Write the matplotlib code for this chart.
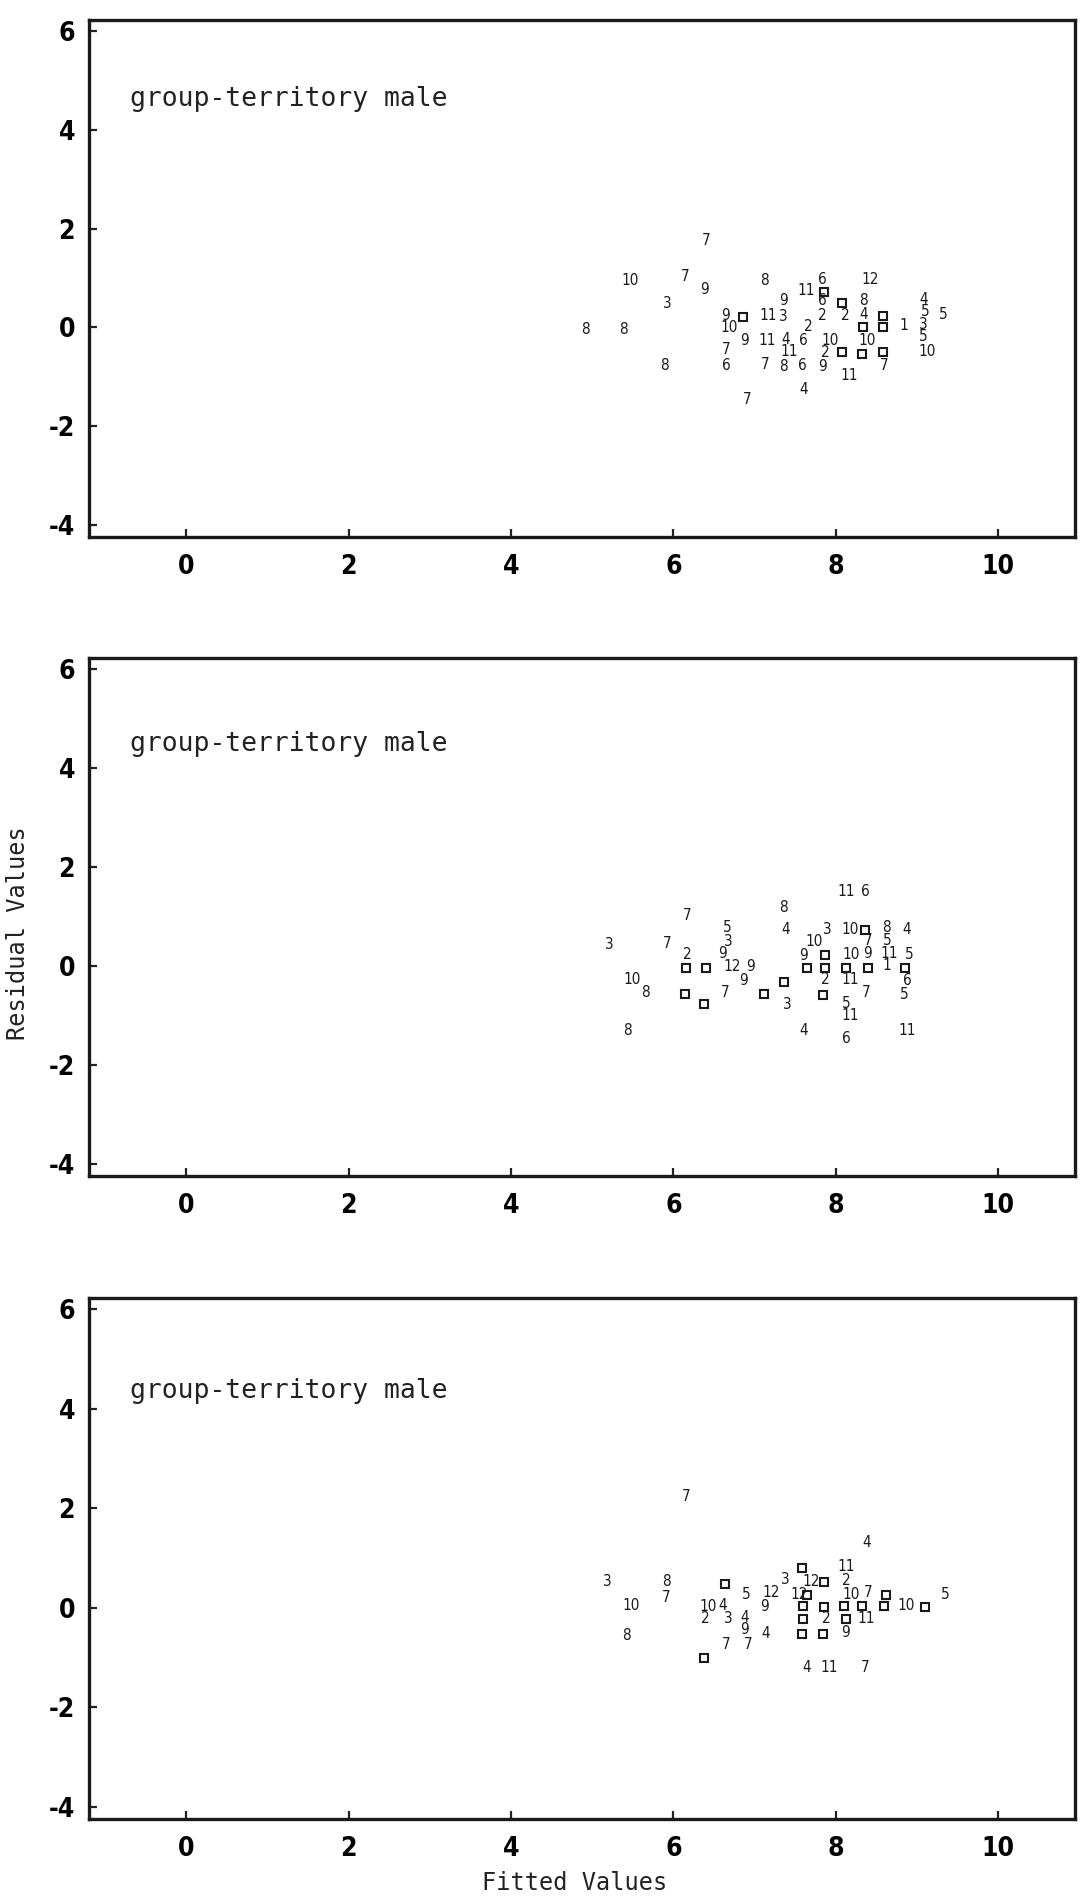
import matplotlib.pyplot as plt

plt.rcParams['axes.unicode_minus'] = False

# 拟合值 / 残差，数字 = 组号，方框 = 另一类点
p1_x = [6.40, 5.47, 6.15, 6.38, 5.92, 7.12, 4.91, 5.39, 6.64, 6.69, 7.17, 6.88, 7.16, 6.65, 6.65, 5.89,
        7.13, 6.91, 7.84, 8.42, 7.64, 7.36, 7.83, 8.34, 7.35, 7.83, 8.12, 8.34, 9.08, 9.10, 9.33, 8.84,
        9.08, 7.66, 7.38, 7.60, 7.93, 8.39, 9.08, 7.42, 9.12, 7.35, 7.59, 7.84, 7.87, 8.60, 8.17, 7.61]
p1_y = [1.76, 0.95, 1.03, 0.77, 0.49, 0.95, -0.04, -0.04, 0.24, 0.00, 0.24, -0.26, -0.26, -0.44, -0.77, -0.77,
        -0.75, -1.46, 0.97, 0.97, 0.75, 0.55, 0.55, 0.55, 0.22, 0.24, 0.24, 0.27, 0.57, 0.32, 0.27, 0.04,
        0.06, 0.02, -0.24, -0.26, -0.26, -0.26, -0.18, -0.49, -0.49, -0.80, -0.77, -0.80, -0.50, -0.77, -0.98, -1.25]
p1_lab = [7, 10, 7, 9, 3, 8, 8, 8, 9, 10, 11, 9, 11, 7, 6, 8,
          7, 7, 6, 12, 11, 9, 6, 8, 3, 2, 2, 4, 4, 5, 5, 1,
          3, 2, 4, 6, 10, 10, 5, 11, 10, 8, 6, 9, 2, 7, 11, 4]
p1_sq_x = [6.86, 7.85, 8.08, 8.58, 8.34, 8.58, 8.08, 8.32, 8.58]
p1_sq_y = [0.22, 0.72, 0.50, 0.24, 0.00, 0.00, -0.49, -0.53, -0.49]

p2_x = [6.17, 6.67, 6.68, 5.21, 5.92, 6.17, 6.61, 6.73, 6.95, 6.86, 5.49, 5.66, 6.64, 5.43,
        8.13, 8.37, 7.35, 7.38, 7.89, 8.18, 8.62, 8.87, 7.73, 7.60, 8.19, 8.39, 8.40, 8.64, 8.66, 8.90,
        8.63, 7.87, 8.18, 8.88, 7.40, 8.38, 8.85, 8.13, 8.18, 7.61, 8.13, 8.88]
p2_y = [1.01, 0.77, 0.49, 0.43, 0.45, 0.24, 0.25, -0.02, -0.02, -0.29, -0.27, -0.54, -0.54, -1.31,
        1.50, 1.50, 1.19, 0.73, 0.73, 0.73, 0.78, 0.73, 0.49, 0.22, 0.24, 0.26, 0.52, 0.52, 0.26, 0.24,
        0.00, -0.28, -0.28, -0.30, -0.77, -0.54, -0.57, -0.75, -1.01, -1.31, -1.46, -1.30]
p2_lab = [7, 5, 3, 3, 7, 2, 9, 12, 9, 9, 10, 8, 7, 8,
          11, 6, 8, 4, 3, 10, 8, 4, 10, 9, 10, 9, 7, 5, 11, 5,
          1, 2, 11, 6, 3, 7, 5, 5, 11, 4, 6, 11]
p2_sq_x = [6.15, 6.40, 6.14, 6.38, 7.11, 8.36, 7.87, 7.64, 7.87, 8.12, 8.40, 8.85, 7.36, 7.84]
p2_sq_y = [-0.04, -0.04, -0.57, -0.77, -0.57, 0.73, 0.22, -0.04, -0.04, -0.04, -0.04, -0.04, -0.32, -0.59]

p3_x = [6.16, 5.18, 5.91, 5.91, 5.48, 6.90, 7.20, 6.43, 6.61, 7.12, 6.39, 6.68, 6.88, 6.87, 7.14, 5.42,
        6.65, 6.92, 8.38, 8.13, 7.38, 7.70, 8.13, 7.55, 8.19, 8.40, 8.87, 9.35, 7.88, 8.38, 8.12, 7.64,
        7.92, 8.36]
p3_y = [2.24, 0.52, 0.52, 0.20, 0.04, 0.26, 0.30, 0.02, 0.04, 0.02, -0.22, -0.22, -0.20, -0.44, -0.52, -0.56,
        -0.74, -0.74, 1.32, 0.84, 0.56, 0.52, 0.54, 0.26, 0.26, 0.30, 0.04, 0.26, -0.22, -0.22, -0.50, -1.20,
        -1.20, -1.20]
p3_lab = [7, 3, 8, 7, 10, 5, 12, 10, 4, 9, 2, 3, 4, 9, 4, 8,
          7, 7, 4, 11, 3, 12, 2, 12, 10, 7, 10, 5, 2, 11, 9, 4,
          11, 7]
p3_sq_x = [6.63, 6.38, 7.59, 7.86, 7.65, 8.62, 7.60, 7.86, 8.10, 8.32, 8.60, 9.10, 7.60, 8.12, 7.59, 7.84]
p3_sq_y = [0.48, -1.00, 0.80, 0.52, 0.26, 0.26, 0.04, 0.02, 0.04, 0.04, 0.04, 0.02, -0.22, -0.22, -0.52, -0.52]

panels = [(p1_x, p1_y, p1_lab, p1_sq_x, p1_sq_y, 4.62),
          (p2_x, p2_y, p2_lab, p2_sq_x, p2_sq_y, 4.49),
          (p3_x, p3_y, p3_lab, p3_sq_x, p3_sq_y, 4.35)]

# 每个子图的位置 [left, bottom, width, height]
boxes = [[0.082, 0.7175, 0.909, 0.272],
         [0.082, 0.3814, 0.909, 0.2725],
         [0.082, 0.0431, 0.909, 0.2741]]

mono = 'DejaVu Sans Mono'

fig = plt.figure(figsize=(10.85, 19.01), dpi=100)

for (xs, ys, labs, sqx, sqy, ty), box in zip(panels, boxes):
    ax = fig.add_axes(box)
    for x, y, n in zip(xs, ys, labs):
        ax.text(x, y, str(n), ha='center', va='center', fontsize=11,
                color='#1a1a1a', family='DejaVu Sans', fontweight='medium',
                fontstretch='condensed')
    ax.plot(sqx, sqy, 's', markersize=6, markerfacecolor='none',
            markeredgecolor='#1a1a1a', markeredgewidth=1.5)
    ax.text(-0.7, ty, 'group-territory male', ha='left', va='center',
            fontsize=19, family=mono, color='#222222')

    ax.set_xlim(-1.2, 10.95)
    ax.set_ylim(-4.24, 6.22)
    ax.set_xticks([0, 2, 4, 6, 8, 10])
    ax.set_yticks([-4, -2, 0, 2, 4, 6])
    ax.tick_params(direction='in', length=6, width=1.6, color='#222222',
                   labelsize=19, pad=12)
    ax.tick_params(axis='y', pad=10)
    for lbl in ax.get_xticklabels() + ax.get_yticklabels():
        lbl.set_family('DejaVu Sans')
        lbl.set_fontstretch('condensed')
        lbl.set_fontweight('bold')
    for sp in ax.spines.values():
        sp.set_linewidth(2.4)
        sp.set_color('#1a1a1a')

fig.text(0.017, 0.509, 'Residual Values', rotation=90, ha='center', va='center',
         fontsize=17, family=mono, color='#222222')
fig.text(0.53, 0.0095, 'Fitted Values', ha='center', va='center',
         fontsize=17, family=mono, color='#222222')

fig.savefig('out.png', dpi=100)
